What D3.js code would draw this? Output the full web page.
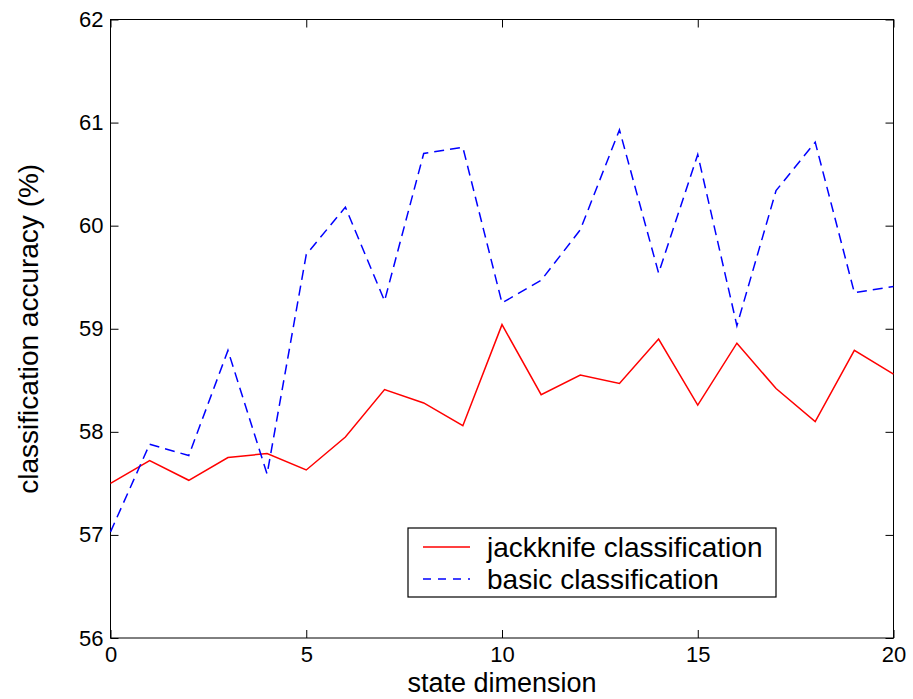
<!DOCTYPE html>
<html>
<head>
<meta charset="utf-8">
<script src="https://cdn.jsdelivr.net/npm/d3@7"></script>
<style>
  html, body { margin: 0; padding: 0; background: #fff; }
  svg { display: block; font-family: "Liberation Sans", Arial, sans-serif; }
</style>
</head>
<body>
<svg id="chart" width="913" height="699"></svg>
<script>
// State dimension on the x axis
const stateDims = [0, 1, 2, 3, 4, 5, 6, 7, 8, 9, 10, 11, 12, 13, 14, 15, 16, 17, 18, 19, 20];
// Classification accuracy (%) per state dimension
const jackknife = [57.50, 57.72, 57.53, 57.75, 57.79, 57.63, 57.95, 58.41, 58.28, 58.06,
                   59.04, 58.36, 58.55, 58.47, 58.90, 58.26, 58.86, 58.42, 58.10, 58.79, 58.56];
const basic = [57.03, 57.88, 57.77, 58.79, 57.59, 59.72, 60.18, 59.27, 60.70, 60.76,
               59.25, 59.47, 59.96, 60.93, 59.54, 60.69, 59.03, 60.34, 60.81, 59.35, 59.41];
const xTicks = [0, 5, 10, 15, 20];
const yTicks = [56, 57, 58, 59, 60, 61, 62];
const seriesNames = ["jackknife classification", "basic classification"];

const svg = d3.select("#chart");
const plotLeft = 110.5, plotRight = 893.5, plotTop = 19.5, plotBottom = 638;

const x = d3.scaleLinear().domain([0, 20]).range([plotLeft, plotRight]);
const y = d3.scaleLinear().domain([56, 62]).range([plotBottom, plotTop]);

// Plot frame
svg.append("rect")
  .attr("x", plotLeft).attr("y", plotTop)
  .attr("width", plotRight - plotLeft).attr("height", plotBottom - plotTop)
  .attr("fill", "#fff").attr("stroke", "#000").attr("stroke-width", 1);

// Axes with inward ticks on all four sides
const tickLen = 8;
const axisStyle = g => {
  g.select(".domain").remove();
  g.selectAll("line").attr("stroke", "#000").attr("stroke-width", 1);
  g.selectAll("text").attr("fill", "#000").attr("font-size", 22);
};

svg.append("g").attr("transform", `translate(0,${plotBottom})`)
  .call(d3.axisBottom(x).tickValues(xTicks).tickSize(-tickLen).tickPadding(5).tickFormat(d3.format("d")))
  .call(axisStyle)
  .call(g => g.selectAll("text").attr("dy", "0.85em"));

svg.append("g").attr("transform", `translate(0,${plotTop})`)
  .call(d3.axisTop(x).tickValues(xTicks).tickSize(-tickLen).tickFormat(""))
  .call(axisStyle);

svg.append("g").attr("transform", `translate(${plotLeft},0)`)
  .call(d3.axisLeft(y).tickValues(yTicks).tickSize(-tickLen).tickPadding(7).tickFormat(d3.format("d")))
  .call(axisStyle);

svg.append("g").attr("transform", `translate(${plotRight},0)`)
  .call(d3.axisRight(y).tickValues(yTicks).tickSize(-tickLen).tickFormat(""))
  .call(axisStyle);

// Series lines
const line = vals => d3.line().x((d, i) => x(stateDims[i])).y(d => y(d))(vals);

svg.append("path")
  .attr("d", line(jackknife))
  .attr("fill", "none").attr("stroke", "#ff0000").attr("stroke-width", 1.5)
  .attr("stroke-linejoin", "miter");

svg.append("path")
  .attr("d", line(basic))
  .attr("fill", "none").attr("stroke", "#0000ff").attr("stroke-width", 1.5)
  .attr("stroke-dasharray", "10,6");

// Axis titles
svg.append("text")
  .attr("x", (plotLeft + plotRight) / 2).attr("y", 692)
  .attr("text-anchor", "middle").attr("font-size", 27)
  .text("state dimension");

svg.append("text")
  .attr("transform", `translate(38,${(plotTop + plotBottom) / 2}) rotate(-90)`)
  .attr("text-anchor", "middle").attr("font-size", 28)
  .text("classification accuracy (%)");

// Legend
const lg = svg.append("g");
lg.append("rect")
  .attr("x", 408).attr("y", 528)
  .attr("width", 368).attr("height", 69)
  .attr("fill", "#fff").attr("stroke", "#000").attr("stroke-width", 1.2);

const legendRows = [
  { name: seriesNames[0], color: "#ff0000", dash: null, yy: 547 },
  { name: seriesNames[1], color: "#0000ff", dash: "8,7", yy: 579 }
];
legendRows.forEach(r => {
  lg.append("line")
    .attr("x1", 423).attr("x2", 470).attr("y1", r.yy).attr("y2", r.yy)
    .attr("stroke", r.color).attr("stroke-width", 1.5)
    .attr("stroke-dasharray", r.dash);
  lg.append("text")
    .attr("x", 487).attr("y", r.yy).attr("dy", "0.35em")
    .attr("font-size", 28).attr("fill", "#000")
    .text(r.name);
});
</script>
</body>
</html>
